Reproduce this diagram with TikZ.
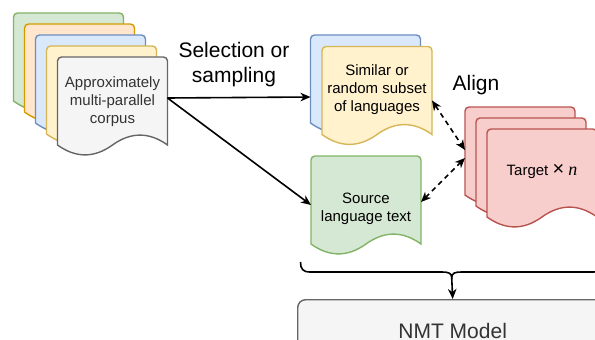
\documentclass[tikz,border=0pt]{standalone}
\usepackage{fontspec}
\setmainfont{Liberation Sans}
\newfontfamily\serifit{Liberation Serif}
\usetikzlibrary{arrows.meta,calc}
\definecolor{gfill}{HTML}{D5E8D4}\definecolor{gline}{HTML}{82B366}
\definecolor{ofill}{HTML}{FFE6CC}\definecolor{oline}{HTML}{D79B00}
\definecolor{bfill}{HTML}{DAE8FC}\definecolor{bline}{HTML}{6C8EBF}
\definecolor{yfill}{HTML}{FFF2CC}\definecolor{yline}{HTML}{D6B656}
\definecolor{sfill}{HTML}{F5F5F5}\definecolor{sline}{HTML}{666666}
\definecolor{rfill}{HTML}{F8CECC}\definecolor{rline}{HTML}{B85450}
\definecolor{tgrey}{HTML}{333333}
\newcommand\docshape[2]{\draw[#2, shift={(#1.north west)}] (0,88) -- (0,4) .. controls (0,1.8) and (1.8,0) .. (4,0) -- (106,0) .. controls (108.2,0) and (110,1.8) .. (110,4) -- (110,88) .. controls (91.67,74.8) and (73.33,74.8) .. (55,88) .. controls (36.67,101.2) and (18.33,101.2) .. (0,88) -- cycle;}
\begin{document}
\begin{tikzpicture}[x=1pt,y=-1pt,
  frame/.style={minimum width=110pt,minimum height=88pt,inner sep=0pt,outer sep=0pt,anchor=north west},
  docG/.style={fill=gfill,draw=gline,line width=1.4pt},
  docO/.style={fill=ofill,draw=oline,line width=1.4pt},
  docB/.style={fill=bfill,draw=bline,line width=1.4pt},
  docY/.style={fill=yfill,draw=yline,line width=1.4pt},
  docS/.style={fill=sfill,draw=sline,line width=1.4pt},
  docR/.style={fill=rfill,draw=rline,line width=1.4pt},
  doctext/.style={font=\fontsize{15}{18}\selectfont,align=center,inner sep=0pt},
  lbl/.style={font=\fontsize{21}{25}\selectfont,align=center,inner sep=0pt},
  arr/.style={-{Stealth[length=10pt,width=8.5pt,inset=3pt]},line width=1.6pt},
  darr/.style={{Stealth[length=10pt,width=8.5pt,inset=3pt]}-{Stealth[length=10pt,width=8.5pt,inset=3pt]},line width=1.6pt,dash pattern=on 5pt off 4pt}]
\useasboundingbox (0,0) rectangle (595,340);
\clip (0,0) rectangle (595,340);
% left stack
\node[frame] (c1) at (13.5,13) {};
\node[frame] (c2) at (24.5,24) {};
\node[frame] (c3) at (35.5,35) {};
\node[frame] (c4) at (46.5,46) {};
\node[frame] (grey) at (57.5,57) {};
\docshape{c1}{docG}
\docshape{c2}{docO}
\docshape{c3}{docB}
\docshape{c4}{docY}
\docshape{grey}{docS}
\node[doctext,text=tgrey] (corpustext) at (112.5,101.5) {Approximately\\multi-parallel\\corpus};
% middle
\node[frame] (blue) at (310.5,35) {};
\node[frame] (yellow) at (322,46.5) {};
\docshape{blue}{docB}
\docshape{yellow}{docY}
\node[doctext] (subsettext) at (377,89.5) {Similar or\\random subset\\of languages};
\node[frame] (source) at (311,156) {};
\docshape{source}{docG}
\node[doctext] (sourcetext) at (366,208.5) {Source\\language text};
% target stack
\node[frame] (t1) at (465,107) {};
\node[frame] (t2) at (476,118) {};
\node[frame] (t3) at (487,129) {};
\docshape{t1}{docR}
\docshape{t2}{docR}
\docshape{t3}{docR}
\node[doctext] (targettext) at (542,171) {Target {\fontsize{20}{20}\selectfont ×} {\serifit\fontsize{18}{18}\selectfont\itshape n}};
% NMT
\node[draw=sline,fill=sfill,line width=1.4pt,rounded corners=8pt,minimum width=310pt,minimum height=62pt,anchor=north west,lbl,text=tgrey] (nmt) at (297,299) {NMT Model};
% brace
\draw[line width=1.6pt] (300.5,262) .. controls (300.5,269) and (303,272) .. (310,272) -- (442,272) .. controls (448,272) and (451.7,273) .. (451.7,277.5) .. controls (451.7,273) and (455.4,272) .. (461.4,272) -- (593.4,272) .. controls (600.4,272) and (602.9,269) .. (602.9,262);
\coordinate (bracetip) at (451.7,277.5);
\draw[arr] (bracetip) -- (nmt.north);
% arrows
\draw[arr] ([yshift=3pt]grey.east) -- ([yshift=-18pt]blue.west);
\draw[arr] ([yshift=3pt]grey.east) -- ([yshift=-5pt]source.west);
\draw[darr] ([yshift=-10pt]yellow.east) -- ([yshift=1pt]t1.west);
\draw[darr] ([yshift=-2pt]source.east) -- ([yshift=-7pt]t1.west);
% labels
\node[lbl] (sel) at (234,64.5) {Selection or\\sampling};
\node[lbl] (align) at (476,85) {Align};
\end{tikzpicture}
\end{document}
